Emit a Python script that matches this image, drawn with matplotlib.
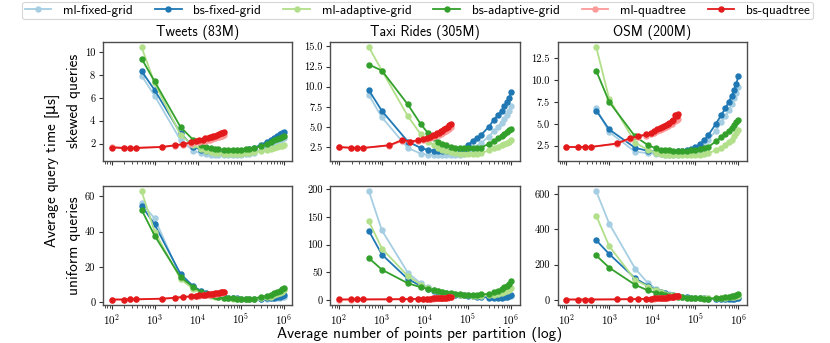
import matplotlib
matplotlib.use("Agg")
import matplotlib.pyplot as plt
from matplotlib.ticker import LogLocator, NullFormatter, MultipleLocator, FormatStrFormatter

plt.rcParams["mathtext.fontset"] = "cm"
plt.rcParams["font.family"] = ["cmss10", "DejaVu Sans"]
plt.rcParams["axes.unicode_minus"] = False

# ---------------- data ----------------
datasets = ["Tweets (83M)", "Taxi Rides (305M)", "OSM (200M)"]
row_labels = ["skewed queries", "uniform queries"]
series_names = ["ml-fixed-grid", "bs-fixed-grid", "ml-adaptive-grid",
                "bs-adaptive-grid", "ml-quadtree", "bs-quadtree"]
colors = ["#a6cee3", "#1f78b4", "#b2df8a", "#33a02c", "#fb9a99", "#e31a1c"]
ytick_steps = [[2, 2.5, 2.5], [20, 50, 200]]
ytick_formats = [["%g", "%.1f", "%.1f"], ["%g", "%g", "%g"]]

grid_x = [500, 1000, 4000, 8000, 12000, 16000, 20000, 25000, 30000, 40000,
          50000, 65000, 80000, 100000, 130000, 160000, 200000, 300000,
          400000, 500000, 600000, 700000, 800000, 900000, 1000000]
quad_x = [100, 190, 270, 370, 1500, 3000, 4600, 7000, 9200, 11000, 13000,
          15000, 17000, 19000, 21000, 23000, 25000, 28000, 31000, 34000,
          37000, 40000]

# Tweets, skewed
tw_s_ml_fixed = [7.95, 6.2, 2.3, 1.35, 1.15, 1.05, 1.0, 0.98, 0.96, 0.95, 0.95, 0.96, 0.98,
                 1.0, 1.05, 1.1, 1.2, 1.45, 1.7, 1.9, 2.05, 2.2, 2.3, 2.4, 2.5]
tw_s_bs_fixed = [8.35, 6.7, 2.9, 1.7, 1.45, 1.35, 1.3, 1.25, 1.22, 1.2, 1.2, 1.22, 1.25,
                 1.3, 1.4, 1.5, 1.6, 1.9, 2.15, 2.35, 2.5, 2.65, 2.8, 2.9, 3.0]
tw_s_ml_adapt = [10.45, 7.3, 2.75, 1.85, 1.5, 1.35, 1.25, 1.2, 1.15, 1.12, 1.1, 1.1, 1.1,
                 1.12, 1.15, 1.18, 1.22, 1.35, 1.45, 1.55, 1.6, 1.68, 1.75, 1.8, 1.85]
tw_s_bs_adapt = [9.45, 7.45, 3.45, 2.3, 1.9, 1.7, 1.6, 1.55, 1.5, 1.45, 1.42, 1.42, 1.42,
                 1.45, 1.5, 1.55, 1.6, 1.75, 2.0, 2.15, 2.3, 2.4, 2.5, 2.6, 2.7]
tw_s_ml_quad = [1.7, 1.65, 1.65, 1.65, 1.7, 1.8, 1.9, 2.0, 2.1, 2.15, 2.2, 2.25, 2.3, 2.35,
                2.4, 2.45, 2.5, 2.55, 2.6, 2.65, 2.7, 2.75]
tw_s_bs_quad = [1.65, 1.6, 1.6, 1.6, 1.7, 1.85, 1.95, 2.1, 2.2, 2.3, 2.35, 2.45, 2.5, 2.55,
                2.6, 2.65, 2.7, 2.78, 2.85, 2.9, 2.95, 3.0]

# Taxi, skewed
tx_s_ml_fixed = [8.95, 6.2, 2.4, 1.7, 1.55, 1.5, 1.48, 1.47, 1.47, 1.48, 1.5, 1.55, 1.6,
                 1.9, 2.2, 2.5, 3.0, 3.8, 4.5, 5.0, 5.5, 6.0, 6.5, 7.0, 7.6]
tx_s_bs_fixed = [9.55, 7.0, 3.2, 2.4, 2.15, 2.05, 2.0, 2.0, 2.0, 2.0, 2.05, 2.1, 2.2,
                 2.8, 3.3, 3.6, 4.0, 5.0, 5.9, 6.5, 7.0, 7.6, 8.1, 8.6, 9.3]
tx_s_ml_adapt = [14.9, 12.0, 6.35, 4.1, 3.2, 2.75, 2.45, 2.2, 2.05, 1.85, 1.75, 1.7, 1.65,
                 1.65, 1.65, 1.68, 1.75, 2.1, 2.35, 2.55, 2.75, 2.9, 3.05, 3.2, 3.35]
tx_s_bs_adapt = [12.75, 12.0, 7.8, 5.35, 4.2, 3.6, 3.2, 2.9, 2.75, 2.55, 2.45, 2.4, 2.35,
                 2.35, 2.35, 2.38, 2.45, 2.9, 3.3, 3.6, 3.9, 4.15, 4.4, 4.6, 4.75]
tx_s_ml_quad = [2.55, 2.45, 2.42, 2.42, 2.7, 3.3, 3.1, 3.25, 3.4, 3.5, 3.65, 3.75, 3.85,
                3.95, 4.05, 4.15, 4.25, 4.4, 4.55, 4.7, 4.8, 4.95]
tx_s_bs_quad = [2.5, 2.42, 2.4, 2.4, 2.75, 3.4, 3.2, 3.35, 3.5, 3.65, 3.8, 3.95, 4.05,
                4.2, 4.3, 4.45, 4.55, 4.75, 4.9, 5.05, 5.2, 5.35]

# OSM, skewed
os_s_ml_fixed = [6.75, 4.05, 1.8, 1.65, 1.55, 1.5, 1.48, 1.47, 1.47, 1.48, 1.5, 1.55, 1.6,
                 1.7, 1.9, 2.3, 3.2, 4.2, 5.2, 5.9, 6.6, 7.3, 7.9, 8.5, 9.2]
os_s_bs_fixed = [6.5, 4.35, 2.25, 1.9, 1.82, 1.8, 1.8, 1.8, 1.82, 1.85, 1.9, 2.0, 2.1,
                 2.3, 2.7, 3.1, 3.7, 5.0, 6.0, 6.8, 7.5, 8.2, 8.9, 9.6, 10.5]
os_s_ml_adapt = [13.75, 7.85, 2.85, 2.0, 1.7, 1.55, 1.48, 1.42, 1.4, 1.38, 1.38, 1.38, 1.4,
                 1.42, 1.48, 1.55, 1.65, 1.95, 2.25, 2.6, 2.9, 3.2, 3.55, 3.9, 4.3]
os_s_bs_adapt = [11.05, 7.5, 3.55, 2.55, 2.2, 2.05, 2.0, 1.95, 1.9, 1.9, 1.9, 1.92, 1.95,
                 2.0, 2.1, 2.2, 2.35, 3.0, 3.45, 3.85, 4.2, 4.55, 4.85, 5.15, 5.45]
os_s_ml_quad = [2.35, 2.35, 2.35, 2.35, 2.7, 3.25, 3.45, 3.65, 3.85, 4.0, 4.15, 4.3, 4.45,
                4.55, 4.65, 4.75, 4.85, 5.0, 5.15, 5.35, 5.45, 5.6]
os_s_bs_quad = [2.35, 2.35, 2.35, 2.35, 2.75, 3.35, 3.55, 3.8, 4.0, 4.2, 4.35, 4.5, 4.65,
                4.8, 4.9, 5.0, 5.1, 5.3, 5.45, 6.05, 5.9, 6.1]

# Tweets, uniform
tw_u_ml_fixed = [56, 47.5, 14.5, 9.0, 6.5, 5.0, 4.2, 3.6, 3.2, 2.7, 2.4, 2.2, 2.0, 1.9, 1.8,
                 1.8, 1.8, 1.9, 2.0, 2.1, 2.2, 2.4, 2.6, 2.8, 3.0]
tw_u_bs_fixed = [54.7, 44, 16, 8.9, 6.3, 5.0, 4.3, 3.7, 3.3, 2.8, 2.5, 2.3, 2.1, 2.0, 1.9,
                 1.9, 1.9, 2.0, 2.1, 2.3, 2.5, 2.8, 3.1, 3.4, 3.8]
tw_u_ml_adapt = [62.8, 40, 13.2, 7.2, 5.2, 4.2, 3.6, 3.1, 2.8, 2.4, 2.2, 2.0, 1.9, 1.8, 1.8,
                 1.8, 1.9, 2.2, 2.7, 3.2, 3.8, 4.5, 5.2, 6.0, 7.0]
tw_u_bs_adapt = [52.3, 37.7, 14.2, 8.5, 6.0, 4.8, 4.1, 3.5, 3.1, 2.6, 2.3, 2.1, 2.0, 1.9, 1.9,
                 1.9, 2.0, 3.0, 3.6, 4.3, 5.0, 5.8, 6.6, 7.3, 8.1]
tw_u_ml_quad = [1.5, 1.5, 1.6, 1.6, 1.9, 2.3, 2.8, 3.1, 3.4, 3.6, 3.8, 4.0, 4.1, 4.3, 4.4,
                4.6, 4.7, 4.9, 5.0, 5.2, 5.4, 5.5]
tw_u_bs_quad = [1.5, 1.5, 1.6, 1.6, 2.0, 2.5, 3.0, 3.3, 3.6, 3.8, 4.0, 4.2, 4.4, 4.6, 4.7,
                4.9, 5.0, 5.2, 5.4, 5.6, 5.8, 6.0]

# Taxi, uniform
tx_u_ml_fixed = [196, 125.6, 49.4, 30, 23, 19, 16.5, 14.5, 13, 11.5, 10.5, 9.5, 9.0, 8.5,
                 8.0, 7.5, 7.0, 6.0, 5.5, 5.5, 5.5, 6.0, 6.5, 7.0, 7.5]
tx_u_bs_fixed = [124.4, 82.1, 38.1, 25.6, 20, 17, 15, 13.5, 12.5, 11, 10, 9, 8.5, 8, 7,
                 6.5, 6.0, 4.5, 4.0, 4.0, 4.5, 5.0, 6.0, 7.0, 8.9]
tx_u_ml_adapt = [141.7, 92.9, 43.5, 28, 21, 18, 16, 14, 13, 11.5, 10.5, 9.5, 9, 8.5, 8, 8,
                 8, 9, 10, 11.5, 13, 15, 17, 19, 21]
tx_u_bs_adapt = [75.6, 54.8, 30.4, 23.2, 20, 17.5, 16, 14.5, 13.5, 12, 11, 10.5, 10, 10, 10,
                 10, 10.2, 11.3, 14, 17, 20, 23, 26, 29, 34.5]
tx_u_ml_quad = [1.1, 1.1, 1.2, 1.2, 1.4, 1.6, 1.8, 2.1, 2.3, 2.5, 2.7, 2.9, 3.0, 3.2, 3.4,
                3.6, 3.8, 4.0, 4.3, 4.6, 4.9, 5.1]
tx_u_bs_quad = [1.2, 1.2, 1.3, 1.3, 1.5, 1.8, 2.0, 2.3, 2.5, 2.7, 2.9, 3.1, 3.3, 3.5, 3.7,
                3.9, 4.1, 4.4, 4.7, 5.0, 5.3, 5.6]

# OSM, uniform
os_u_ml_fixed = [615, 432, 177.6, 95, 65, 48, 40, 33, 28, 22, 19, 16, 14, 12.5, 11, 10, 9,
                 8, 8, 8.5, 9, 10, 11, 12, 13]
os_u_bs_fixed = [338, 260, 123, 80, 58, 46, 38, 31, 27, 21, 18, 15, 13, 11.5, 10, 9, 8, 7,
                 6.5, 6.5, 7, 7.5, 8, 9, 10]
os_u_ml_adapt = [476.6, 304.7, 114, 76.6, 55, 43, 36, 30, 26, 20, 17, 14, 12, 11, 10, 9.5,
                 9, 10, 12, 14, 16, 18, 20, 22, 24]
os_u_bs_adapt = [252, 183, 86, 54, 40, 33, 28, 24, 21, 17, 15, 13, 11, 10, 9, 8.5, 8, 10,
                 13, 16, 19, 22, 25, 28, 32]
os_u_ml_quad = [3, 3, 3, 3, 4, 5, 5.5, 6.5, 7.5, 8.5, 9.5, 10, 11, 12, 13, 14, 15, 16.5, 18,
                19, 20.5, 22]
os_u_bs_quad = [3, 3, 3, 3, 4, 5, 6, 7, 8, 9, 10, 11, 12, 13, 14, 15, 16, 18, 19.5, 21,
                22.5, 24]

panels = [
    [
        [tw_s_ml_fixed, tw_s_bs_fixed, tw_s_ml_adapt, tw_s_bs_adapt, tw_s_ml_quad, tw_s_bs_quad],
        [tx_s_ml_fixed, tx_s_bs_fixed, tx_s_ml_adapt, tx_s_bs_adapt, tx_s_ml_quad, tx_s_bs_quad],
        [os_s_ml_fixed, os_s_bs_fixed, os_s_ml_adapt, os_s_bs_adapt, os_s_ml_quad, os_s_bs_quad],
    ],
    [
        [tw_u_ml_fixed, tw_u_bs_fixed, tw_u_ml_adapt, tw_u_bs_adapt, tw_u_ml_quad, tw_u_bs_quad],
        [tx_u_ml_fixed, tx_u_bs_fixed, tx_u_ml_adapt, tx_u_bs_adapt, tx_u_ml_quad, tx_u_bs_quad],
        [os_u_ml_fixed, os_u_bs_fixed, os_u_ml_adapt, os_u_bs_adapt, os_u_ml_quad, os_u_bs_quad],
    ],
]

# ---------------- plot ----------------
fig, axes = plt.subplots(2, 3, figsize=(8.3, 3.43), dpi=100, sharex=True)
fig.subplots_adjust(left=0.124, right=0.9, top=0.878, bottom=0.111,
                    wspace=0.2, hspace=0.21)

handles = []
for r in range(2):
    for c in range(3):
        ax = axes[r, c]
        for k in range(6):
            xs = quad_x if k >= 4 else grid_x
            ln, = ax.plot(xs, panels[r][c][k], color=colors[k], marker="o",
                          markersize=3.6, linewidth=1.3, label=series_names[k])
            if r == 0 and c == 0:
                handles.append(ln)
        ax.set_xscale("log")
        ax.xaxis.set_major_locator(LogLocator(base=10, numticks=10))
        ax.xaxis.set_minor_locator(LogLocator(base=10, subs=range(2, 10), numticks=20))
        ax.xaxis.set_minor_formatter(NullFormatter())
        ax.yaxis.set_major_locator(MultipleLocator(ytick_steps[r][c]))
        ax.yaxis.set_major_formatter(FormatStrFormatter(ytick_formats[r][c]))
        ax.tick_params(axis="both", which="major", length=3, width=0.8,
                       color="0.2", labelfontfamily="cmr10")
        ax.tick_params(axis="y", labelsize=7.5, pad=2.5)
        ax.tick_params(axis="x", labelsize=8, pad=2)
        ax.tick_params(axis="x", which="minor", length=1.8, width=0.6, color="0.2")
        for sp in ax.spines.values():
            sp.set_color("0.3")
            sp.set_linewidth(1.0)
        if r == 0:
            ax.set_title(datasets[c], fontsize=10, pad=4)
    axes[r, 0].set_ylabel(row_labels[r], fontsize=11)
    axes[r, 0].yaxis.set_label_coords(-0.118, 0.5)

fig.text(0.064, 0.5, r"Average query time [$\mathrm{\mu}$s]", rotation=90, fontsize=11,
         ha="center", va="center", math_fontfamily="dejavusans")
fig.text(0.505, 0.026, "Average number of points per partition (log)", fontsize=11,
         ha="center", va="center")

leg = fig.legend(handles, series_names, loc="upper left", ncol=6,
                 bbox_to_anchor=(0.027, 0.995, 0.952, 0.0), mode="expand",
                 fontsize=9.5, frameon=True, fancybox=True, handlelength=2.0,
                 borderpad=0.2, handletextpad=0.9, borderaxespad=0.0)
leg.get_frame().set_edgecolor("0.8")
leg.get_frame().set_linewidth(0.8)

fig.savefig("out.png", dpi=100)
